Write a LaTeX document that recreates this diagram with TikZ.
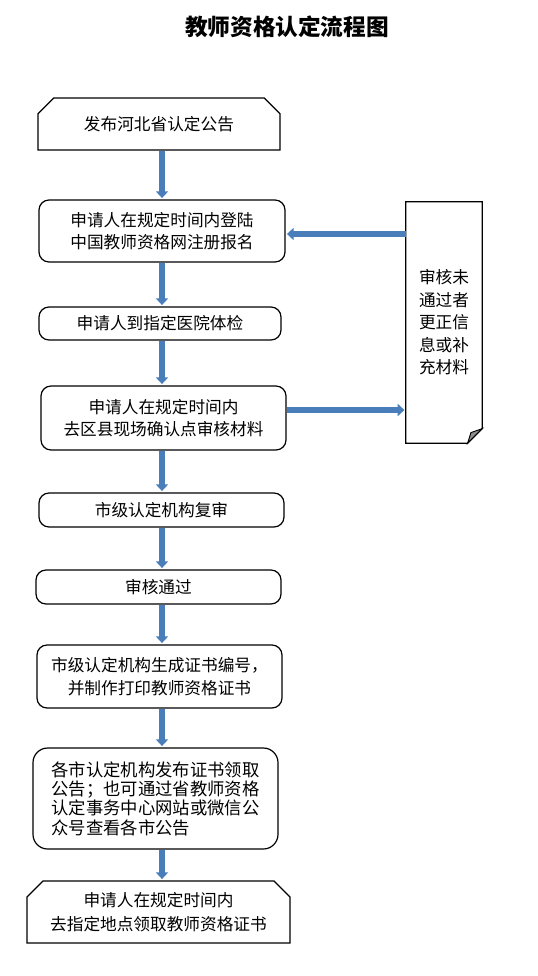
\documentclass[tikz,border=0pt]{standalone}
\usepackage{fontspec}
\newfontfamily\cjk{Noto Sans CJK SC}
\usetikzlibrary{arrows.meta, shapes.misc}
\definecolor{arrowblue}{RGB}{74,126,187}
\definecolor{foldgray}{RGB}{140,140,140}

\begin{document}
\begin{tikzpicture}[x=0.75pt,y=-0.75pt,
    flowarrow/.style={draw=arrowblue, line width=4.5pt, -{Triangle[width=9pt,length=5pt]}, shorten >=1pt},
    box/.style={draw, line width=0.9pt, rounded corners=7.5pt, inner sep=0pt, minimum width=183.75pt, align=center, font=\cjk\fontsize{12.5}{17}\selectfont},
    snipbox/.style={box, sharp corners, chamfered rectangle, chamfered rectangle corners={north west,north east}, chamfered rectangle xsep=6pt, chamfered rectangle ysep=6pt}]
  \useasboundingbox (0,0) rectangle (538,976);

  \node[font=\cjk\bfseries\fontsize{17}{20}\selectfont] (title) at (287,27) {教师资格认定流程图};

  \node[snipbox, minimum width=181.5pt, minimum height=39pt] (b1) at (159,124) {发布河北省认定公告};
  \node[box, minimum width=184.5pt, minimum height=46.5pt] (b2) at (162,231) {申请人在规定时间内登陆\\中国教师资格网注册报名};
  \node[box, minimum width=181.5pt, minimum height=24.75pt] (b3) at (160,323.5) {申请人到指定医院体检};
  \node[box, minimum height=48pt] (b4) at (163.5,418) {申请人在规定时间内\\去区县现场确认点审核材料};
  \node[box, minimum height=25.5pt] (b5) at (161.5,510) {市级认定机构复审};
  \node[box, minimum height=25.5pt] (b6) at (158.5,587) {审核通过};
  \node[box, minimum height=47.25pt] (b7) at (159.5,676.5) {市级认定机构生成证书编号，\\并制作打印教师资格证书};
  \node[box, rounded corners=11pt, minimum height=75.75pt, align=left, font=\cjk\fontsize{13}{14.5}\selectfont] (b8) at (155.5,798.5) {各市认定机构发布证书领取\\公告；也可通过省教师资格\\认定事务中心网站或微信公\\众号查看各市公告};
  \node[snipbox, minimum width=197.25pt, minimum height=46.5pt, font=\cjk\fontsize{12.5}{18.5}\selectfont] (b9) at (158.5,912) {申请人在规定时间内\\去指定地点领取教师资格证书};

  % note with folded corner
  \node[inner sep=0pt, minimum width=57pt, minimum height=180.75pt, align=center, font=\cjk\fontsize{12.5}{16.9}\selectfont] (note) at (444,322.5) {审核未\\通过者\\更正信\\息或补\\充材料};
  \draw[line width=0.9pt] (note.north west) -- (note.north east) -- ([yshift=11pt]note.south east) -- ([xshift=-11pt]note.south east) -- (note.south west) -- cycle;
  \filldraw[fill=foldgray, line width=0.7pt] ([yshift=11pt]note.south east) -- ([xshift=-11pt]note.south east) -- ([xshift=-8.5pt,yshift=8pt]note.south east) -- cycle;

  \coordinate (ax) at (162,0);
  \foreach \a/\b in {b1/b2, b2/b3, b3/b4, b4/b5, b5/b6, b6/b7, b7/b8, b8/b9}
    \draw[flowarrow] (\a.south -| ax) -- (\b.north -| ax);

  \draw[flowarrow] ([yshift=-2.25pt]b2.east -| note.west) -- ([yshift=-2.25pt]b2.east);
  \draw[flowarrow] ([yshift=6pt]b4.east) -- ([yshift=6pt]b4.east -| note.west);
\end{tikzpicture}
\end{document}
